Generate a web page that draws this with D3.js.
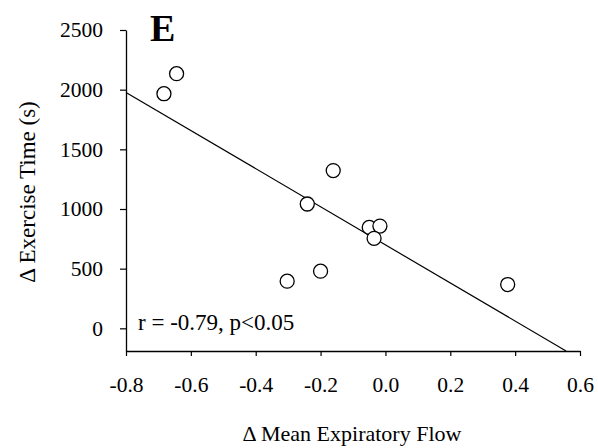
<!DOCTYPE html>
<html><head><meta charset="utf-8">
<script src="https://cdn.jsdelivr.net/npm/d3@7"></script>
<style>
html,body{margin:0;padding:0;background:#fff;}
svg text{font-family:"Liberation Serif","Times New Roman",serif;fill:#000;}
</style></head>
<body><svg id="c" width="598" height="448"></svg>
<script>
// Data
const flowChange = [-0.683, -0.644, -0.161, -0.241, -0.050, -0.017, -0.035, -0.200, -0.303, 0.377];
const timeChange = [1966, 2134, 1322, 1042, 846, 857, 754, 479, 395, 367];
const fitX = [-0.8, 0.557];
const fitY = [1977, -190];
const xTicks = [-0.8, -0.6, -0.4, -0.2, 0.0, 0.2, 0.4, 0.6];
const yTicks = [0, 500, 1000, 1500, 2000, 2500];
const panelLabel = "E";
const statText = "r = -0.79, p<0.05";
const xTitle = "\u0394 Mean Expiratory Flow";
const yTitle = "\u0394 Exercise Time (s)";

const svg = d3.select("#c");
const x = d3.scaleLinear().domain([-0.8, 0.6]).range([126, 580]);
const y = d3.scaleLinear().domain([-190, 2500]).range([351, 30]);

const xAxis = svg.append("g").attr("transform", `translate(0,${y(-190)})`)
  .call(d3.axisBottom(x).tickValues(xTicks).tickFormat(d3.format(".1f")).tickSize(5).tickSizeOuter(0).tickPadding(21));
const yAxis = svg.append("g").attr("transform", `translate(${x(-0.8)},0)`)
  .call(d3.axisLeft(y).tickValues(yTicks).tickFormat(d3.format("d")).tickSize(6).tickSizeOuter(0).tickPadding(17));
[xAxis, yAxis].forEach(g => {
  g.attr("font-family", null).attr("font-size", null);
  g.selectAll("path.domain").attr("stroke", "#000").attr("stroke-width", 1.3);
  g.selectAll(".tick line").attr("stroke", "#000").attr("stroke-width", 1.2);
  g.selectAll(".tick text").attr("font-size", 21.5).attr("font-family", "Liberation Serif");
});
xAxis.selectAll(".tick text").text(d => d3.format(".1f")(d).replace("\u2212", "-"));

// regression line
svg.append("line")
  .attr("x1", x(fitX[0])).attr("y1", y(fitY[0]))
  .attr("x2", x(fitX[1])).attr("y2", y(fitY[1]))
  .attr("stroke", "#000").attr("stroke-width", 1.2);

// points
svg.selectAll("circle.pt").data(flowChange.map((v, i) => [v, timeChange[i]]))
  .enter().append("circle").attr("class", "pt")
  .attr("cx", d => x(d[0])).attr("cy", d => y(d[1])).attr("r", 7)
  .attr("fill", "#fff").attr("stroke", "#000").attr("stroke-width", 1.3);

// panel label
svg.append("text").attr("x", 150).attr("y", 41).attr("font-size", 38)
  .attr("font-weight", "bold").text(panelLabel);

// stat text
svg.append("text").attr("x", 138).attr("y", 330).attr("font-size", 23).text(statText);

// axis titles
svg.append("text").attr("x", 352).attr("y", 441).attr("text-anchor", "middle")
  .attr("font-size", 22).text(xTitle);
svg.append("text").attr("transform", "translate(35,192) rotate(-90)")
  .attr("text-anchor", "middle").attr("font-size", 23).text(yTitle);
</script></body></html>
